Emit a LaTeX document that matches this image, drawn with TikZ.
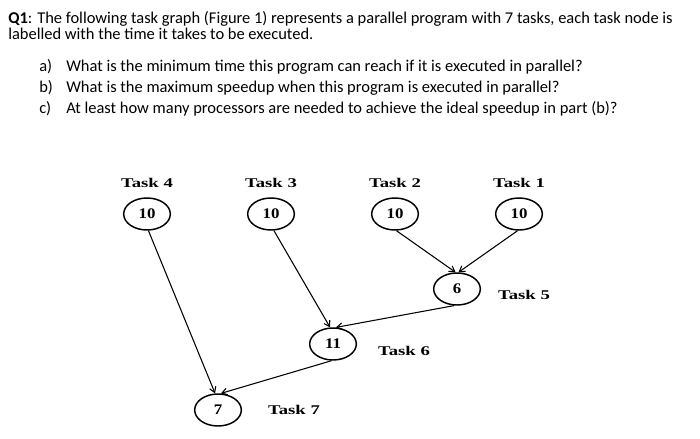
\documentclass[tikz,border=0pt]{standalone}
\usepackage{fontspec}
\setmainfont{Carlito}
\newfontfamily\graphfont{Liberation Serif}
\usetikzlibrary{positioning, arrows.meta, shapes.geometric}
\tikzset{
    >={Straight Barb[length=4pt,width=5pt]}, % small open heads
    task/.style={ellipse, draw, line width=1.1pt, minimum width=35pt, minimum height=24pt,
        inner sep=0pt, font=\graphfont\bfseries\fontsize{11}{11}\selectfont},
    tasklabel/.style={font=\graphfont\bfseries\fontsize{10}{10}\selectfont, inner sep=0pt},
    qline/.style={anchor=base west, inner sep=0pt, font=\fontsize{12.35}{14}\selectfont},
}

\begin{document}
\begin{tikzpicture}[x=0.75pt, y=-0.75pt, node distance=93pt, on grid]
    \useasboundingbox (0,0) rectangle (700,439);

    % question text
    \node[qline] (q1) at (8,23) {\textbf{Q1}: The following task graph (Figure 1) represents a parallel program with 7 tasks, each task node is};
    \node[qline] (q2) at (8,39) {labelled with the time it takes to be executed.};
    \node[qline] (qa) at (39,71) {a)};
    \node[qline] (qat) at (66,71) {What is the minimum time this program can reach if it is executed in parallel?};
    \node[qline] (qb) at (39,92) {b)};
    \node[qline] (qbt) at (66,92) {What is the maximum speedup when this program is executed in parallel?};
    \node[qline] (qc) at (39,113) {c)};
    \node[qline] (qct) at (66,113) {At least how many processors are needed to achieve the ideal speedup in part (b)?};

    % top row of tasks
    \node[task] (t4) at (147,214) {\scalebox{1.15}[1]{10}};
    \node[task] (t3) [right=of t4] {\scalebox{1.15}[1]{10}};
    \node[task] (t2) [right=of t3] {\scalebox{1.15}[1]{10}};
    \node[task] (t1) [right=of t2] {\scalebox{1.15}[1]{10}};
    \node[tasklabel] (l4) [above=23pt of t4] {\scalebox{1.4}[1]{Task 4}};
    \node[tasklabel] (l3) [above=23pt of t3] {\scalebox{1.4}[1]{Task 3}};
    \node[tasklabel] (l2) [above=23pt of t2] {\scalebox{1.4}[1]{Task 2}};
    \node[tasklabel] (l1) [above=23pt of t1] {\scalebox{1.4}[1]{Task 1}};

    % lower tasks
    \node[task] (t5) at (457,289) {\scalebox{1.15}[1]{6}};
    \node[task] (t6) at (333,344) {\scalebox{1.15}[1]{11}};
    \node[task] (t7) at (218,410) {\scalebox{1.15}[1]{7}};
    \node[tasklabel] (l5) at (524,295) {\scalebox{1.4}[1]{Task 5}};
    \node[tasklabel] (l6) at (404,351) {\scalebox{1.4}[1]{Task 6}};
    \node[tasklabel] (l7) at (294,410) {\scalebox{1.4}[1]{Task 7}};

    \path[->, line width=0.8pt]
        (t2.275) edge (t5.95)
        (t1.265) edge (t5.85)
        (t3.280) edge (t6.100)
        (t5.260) edge (t6.80)
        (t4.275) edge (t7.100)
        (t6.265) edge (t7.80);
\end{tikzpicture}
\end{document}
